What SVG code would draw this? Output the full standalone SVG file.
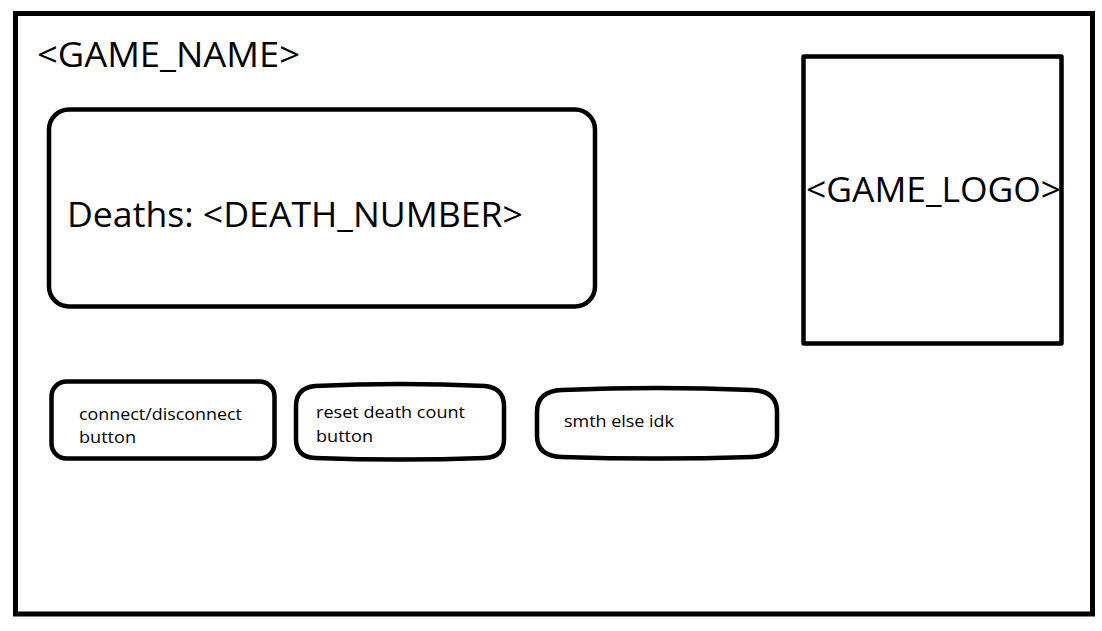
<svg xmlns="http://www.w3.org/2000/svg" width="1102" height="631" viewBox="0 0 1102 631">
<style>
.box{fill:none;stroke:#000;stroke-width:4.5;stroke-linejoin:round}
.t{font-family:"Open Sans","Noto Sans","Liberation Sans",sans-serif;fill:#000}
.big{font-size:34px}
.sm{font-size:16px}
</style>
<rect width="1102" height="631" fill="#fff"/>
<g id="frame">
<rect x="15.5" y="13.5" width="1077" height="600.5" fill="none" stroke="#000" stroke-width="5"/>
</g>
<g id="game-name">
<text class="t big" x="37" y="67" textLength="263" lengthAdjust="spacingAndGlyphs">&lt;GAME_NAME&gt;</text>
</g>
<g id="deaths">
<rect class="box" x="49" y="109.5" width="546" height="197" rx="20"/>
<text class="t big" x="67" y="227" textLength="456" lengthAdjust="spacingAndGlyphs">Deaths: &lt;DEATH_NUMBER&gt;</text>
</g>
<g id="logo">
<rect class="box" x="803.5" y="56.5" width="258" height="287" stroke-linejoin="miter"/>
<text class="t big" x="806" y="202" textLength="255" lengthAdjust="spacingAndGlyphs">&lt;GAME_LOGO&gt;</text>
</g>
<g id="btn-connect">
<rect class="box" x="51.5" y="381.5" width="223" height="77" rx="15"/>
<text class="t sm" x="79" y="420" textLength="163" lengthAdjust="spacingAndGlyphs">connect/disconnect</text>
<text class="t sm" x="79" y="443" textLength="57" lengthAdjust="spacingAndGlyphs">button</text>
</g>
<g id="btn-reset">
<path class="box" d="M315 386 Q400 382 485 386 Q504 388 504 406 L504 439 Q504 457 485 458 Q400 461 315 458 Q296 457 296 439 L296 406 Q296 388 315 386 Z"/>
<text class="t sm" x="316" y="418" textLength="149" lengthAdjust="spacingAndGlyphs">reset death count</text>
<text class="t sm" x="316" y="442" textLength="57" lengthAdjust="spacingAndGlyphs">button</text>
</g>
<g id="btn-other">
<path class="box" d="M562 390 Q657 386 752 390 Q777 391 777 412 L777 436 Q777 456 752 457 Q657 460 562 457 Q537 456 537 436 L537 412 Q537 391 562 390 Z"/>
<text class="t sm" x="564" y="427" textLength="110" lengthAdjust="spacingAndGlyphs">smth else idk</text>
</g>
</svg>
